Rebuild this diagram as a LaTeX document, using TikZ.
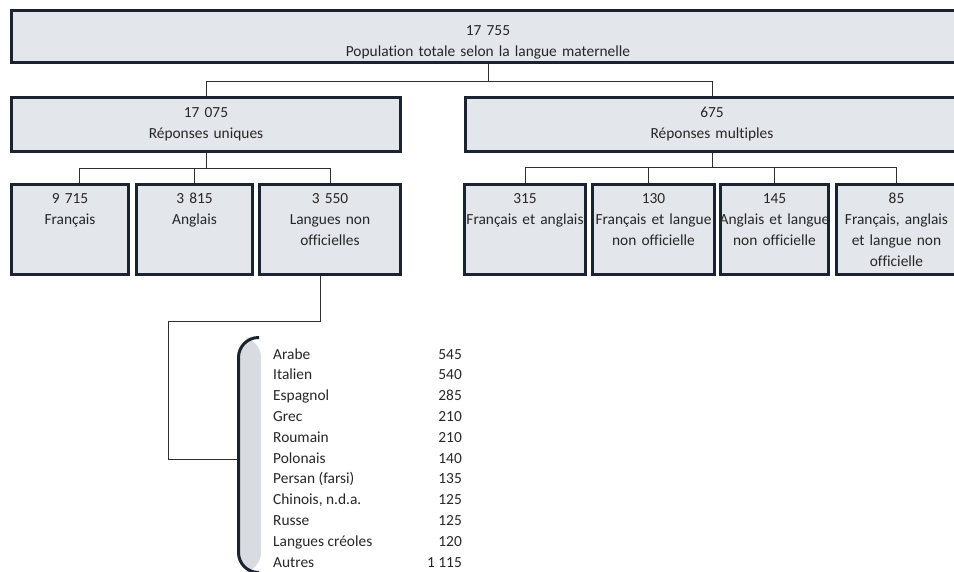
\documentclass[tikz,border=0pt]{standalone}
\usepackage{fontspec}
\setmainfont[Ligatures=NoCommon]{Carlito}
\usetikzlibrary{calc}
\definecolor{bord}{HTML}{1B2230}
\definecolor{boxfill}{HTML}{E3E6EB}
\definecolor{brkfill}{HTML}{D8DBE0}
\definecolor{txtc}{HTML}{262626}
\definecolor{linec}{HTML}{2E2E2E}
\newcommand{\fs}{\fontsize{15.4}{21}\selectfont}
\tikzset{
  bx/.style={draw=bord, fill=boxfill, line width=3pt, rectangle, inner sep=0pt},
  lab/.style={font=\fs, text=txtc, inner sep=0pt, align=center, anchor=base},
  conn/.style={draw=linec, line width=1pt},
  item/.style={font=\fs, text=txtc, inner sep=0pt, anchor=base west},
  val/.style={font=\fs, text=txtc, inner sep=0pt, anchor=base east}
}
\begin{document}
\begin{tikzpicture}[x=1pt,y=-1pt]
\useasboundingbox (0,0) rectangle (954,571);
\clip (0,0) rectangle (954,571);
% boxes
\node[bx, minimum width=953, minimum height=52] (top) at (488,36.5) {};
\node[bx, minimum width=389, minimum height=54] (uniq) at (206,124.5) {};
\node[bx, minimum width=493, minimum height=54] (mult) at (712,124.5) {};
\node[bx, minimum width=117, minimum height=90] (fr) at (70,229.5) {};
\node[bx, minimum width=116, minimum height=90] (en) at (194.5,229.5) {};
\node[bx, minimum width=141, minimum height=90] (lno) at (330,229.5) {};
\node[bx, minimum width=121, minimum height=90] (m1) at (525,229.5) {};
\node[bx, minimum width=122, minimum height=90] (m2) at (653.5,229.5) {};
\node[bx, minimum width=108, minimum height=90] (m3) at (774.5,229.5) {};
\node[bx, minimum width=120, minimum height=90] (m4) at (896.5,229.5) {};
% labels
\node[lab, text width=400] (topt) at (488,35) {17 755\\Population totale selon la langue maternelle};
\node[lab, text width=300] (uniqt) at (206,117) {17 075\\Réponses uniques};
\node[lab, text width=300] (multt) at (712,117) {675\\Réponses multiples};
\node[lab, text width=117] (frt) at (70,203) {9 715\\Français};
\node[lab, text width=116] (ent) at (194.5,203) {3 815\\Anglais};
\node[lab, text width=141] (lnot) at (330,203) {3 550\\Langues non\\officielles};
\node[lab, text width=130] (m1t) at (525,203) {315\\Français et anglais};
\node[lab, text width=130] (m2t) at (653.5,203) {130\\Français et langue\\non officielle};
\node[lab, text width=125] (m3t) at (774.5,203) {145\\Anglais et langue\\non officielle};
\node[lab, text width=125] (m4t) at (896.5,203) {85\\Français, anglais\\et langue non\\officielle};
% connectors level 1
\draw[conn] (top.south) -- ++(0,17) coordinate (b1) -| (uniq.north);
\draw[conn] (b1) -| (mult.north);
% level 2 left
\coordinate (frin) at ([xshift=9]fr.north);
\draw[conn] (uniq.south) -- ++(0,15.5) coordinate (b2);
\draw[conn] (b2) -| (frin);
\draw[conn] (b2) -| (lno.north);
\draw[conn] (b2 -| en.north) -- (en.north);
% level 2 right
\coordinate (m2in) at ([xshift=-5.5]m2.north);
\draw[conn] (mult.south) -- ++(0,14.5) coordinate (b3);
\draw[conn] (b3) -| (m1.north);
\draw[conn] (b3) -| (m4.north);
\draw[conn] (b3 -| m2in) -- (m2in);
\draw[conn] (b3 -| m3.north) -- (m3.north);
% bracket
\fill[brkfill, rounded corners=20] (261,337.5) -- (238.5,337.5) -- (238.5,572.5) -- (261,572.5) -- cycle;
\draw[draw=bord, line width=3pt, rounded corners=20] (259,337.5) -- (238.5,337.5) -- (238.5,572.5) -- (259,572.5);
\coordinate (brk) at (237,459);
\coordinate (k1) at (168,321);
\coordinate (lnout) at ([xshift=-10]lno.south);
\draw[conn] (lnout) |- (k1) |- (brk);
% list
\foreach \n/\v [count=\i from 0] in {Arabe/545, Italien/540, Espagnol/285, Grec/210, Roumain/210, Polonais/140, Persan (farsi)/135, {Chinois, n.d.a.}/125, Russe/125, Langues créoles/120, Autres/1 115}{
  \node[item] (li\i) at (273,359+20.8*\i) {\n};
  \node[val] (lv\i) at (462,359+20.8*\i) {\v};
}
\end{tikzpicture}
\end{document}
